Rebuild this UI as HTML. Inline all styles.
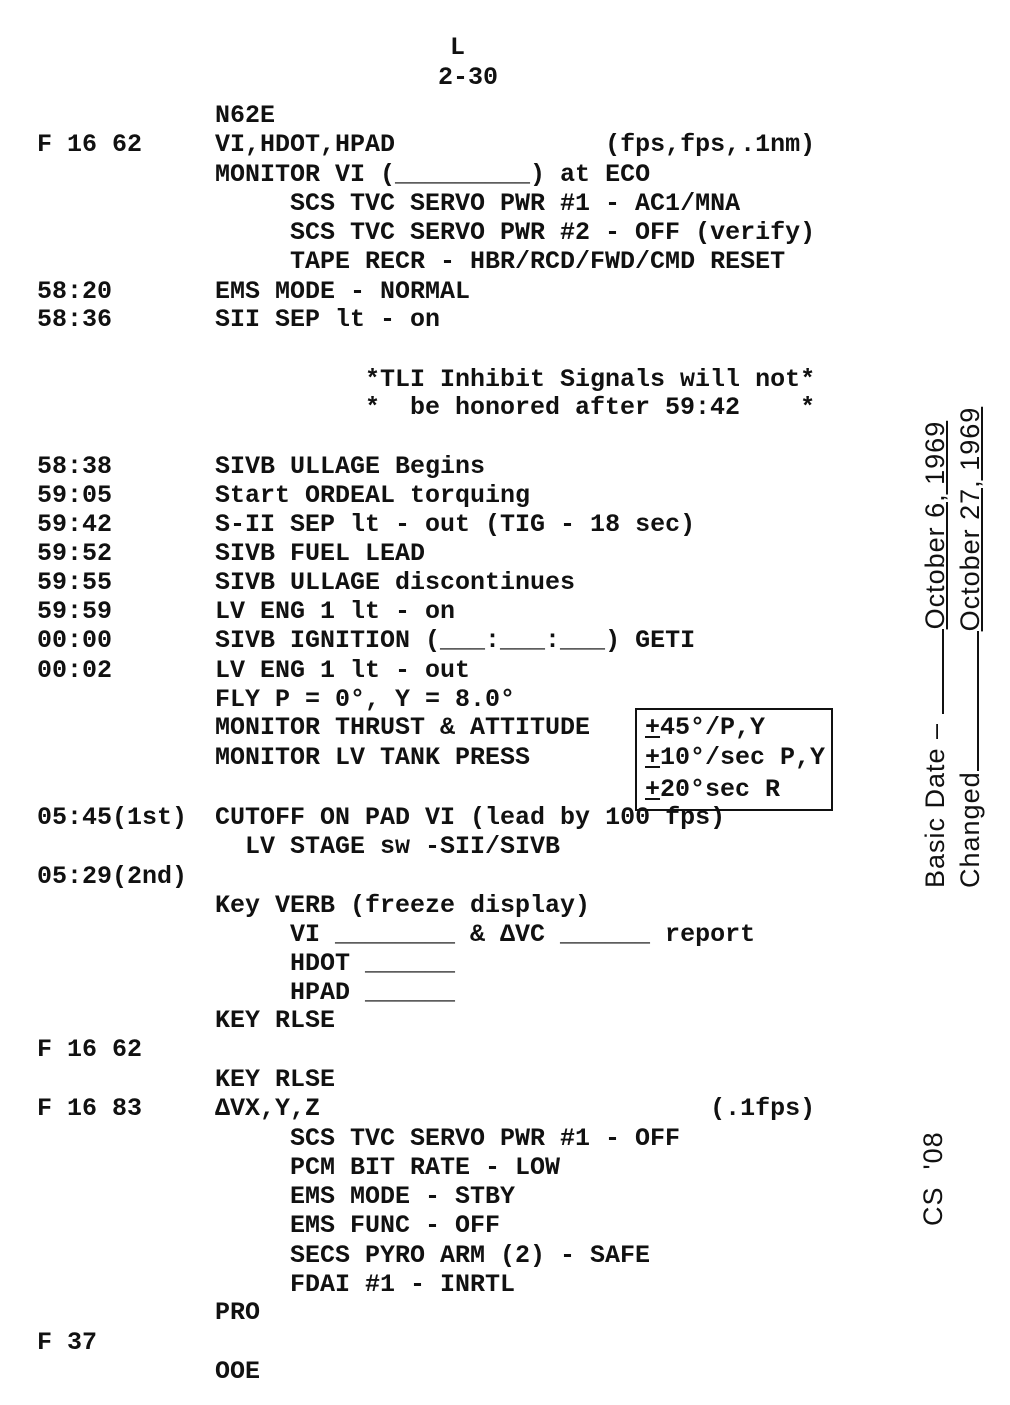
<!DOCTYPE html>
<html><head><meta charset="utf-8"><style>
body{margin:0;background:#fff;width:1010px;height:1405px;position:relative;overflow:hidden;font-family:"Liberation Mono",monospace;font-weight:bold;font-size:25px;color:#111}
.t{position:absolute;white-space:pre;line-height:30px}
.r{position:absolute;white-space:pre;font-family:"Liberation Sans",sans-serif;font-weight:normal;font-size:27px;letter-spacing:1px;transform-origin:0 0;transform:rotate(-90deg);line-height:30px}
.r span.g{display:inline-block;border-bottom:2px solid #111;height:24px;vertical-align:baseline}
u{text-decoration:underline}
</style></head><body>
<div class="t" style="left:450px;top:33px">L</div>
<div class="t" style="left:438px;top:63px">2-30</div>
<div class="t" style="left:215px;top:101px">N62E</div>
<div class="t" style="left:37px;top:130px">F 16 62</div>
<div class="t" style="left:215px;top:130px">VI,HDOT,HPAD              (fps,fps,.1nm)</div>
<div class="t" style="left:215px;top:160px">MONITOR VI (_________) at ECO</div>
<div class="t" style="left:290px;top:189px">SCS TVC SERVO PWR #1 - AC1/MNA</div>
<div class="t" style="left:290px;top:218px">SCS TVC SERVO PWR #2 - OFF (verify)</div>
<div class="t" style="left:290px;top:247px">TAPE RECR - HBR/RCD/FWD/CMD RESET</div>
<div class="t" style="left:37px;top:277px">58:20</div>
<div class="t" style="left:215px;top:277px">EMS MODE - NORMAL</div>
<div class="t" style="left:37px;top:305px">58:36</div>
<div class="t" style="left:215px;top:305px">SII SEP lt - on</div>
<div class="t" style="left:365px;top:365px">*TLI Inhibit Signals will not*</div>
<div class="t" style="left:365px;top:393px">*  be honored after 59:42    *</div>
<div class="t" style="left:37px;top:452px">58:38</div>
<div class="t" style="left:215px;top:452px">SIVB ULLAGE Begins</div>
<div class="t" style="left:37px;top:481px">59:05</div>
<div class="t" style="left:215px;top:481px">Start ORDEAL torquing</div>
<div class="t" style="left:37px;top:510px">59:42</div>
<div class="t" style="left:215px;top:510px">S-II SEP lt - out (TIG - 18 sec)</div>
<div class="t" style="left:37px;top:539px">59:52</div>
<div class="t" style="left:215px;top:539px">SIVB FUEL LEAD</div>
<div class="t" style="left:37px;top:568px">59:55</div>
<div class="t" style="left:215px;top:568px">SIVB ULLAGE discontinues</div>
<div class="t" style="left:37px;top:597px">59:59</div>
<div class="t" style="left:215px;top:597px">LV ENG 1 lt - on</div>
<div class="t" style="left:37px;top:626px">00:00</div>
<div class="t" style="left:215px;top:626px">SIVB IGNITION (___:___:___) GETI</div>
<div class="t" style="left:37px;top:656px">00:02</div>
<div class="t" style="left:215px;top:656px">LV ENG 1 lt - out</div>
<div class="t" style="left:215px;top:685px">FLY P = 0°, Y = 8.0°</div>
<div class="t" style="left:215px;top:713px">MONITOR THRUST &amp; ATTITUDE</div>
<div class="t" style="left:215px;top:743px">MONITOR LV TANK PRESS</div>
<div style="position:absolute;left:635px;top:708px;width:194px;height:99px;border:2px solid #111"></div>
<div class="t" style="left:645px;top:713px"><u>+</u>45°/P,Y</div>
<div class="t" style="left:645px;top:743px"><u>+</u>10°/sec P,Y</div>
<div class="t" style="left:645px;top:775px"><u>+</u>20°sec R</div>
<div class="t" style="left:37px;top:803px">05:45(1st)</div>
<div class="t" style="left:215px;top:803px">CUTOFF ON PAD VI (lead by 100 fps)</div>
<div class="t" style="left:245px;top:832px">LV STAGE sw -SII/SIVB</div>
<div class="t" style="left:37px;top:862px">05:29(2nd)</div>
<div class="t" style="left:215px;top:891px">Key VERB (freeze display)</div>
<div class="t" style="left:290px;top:920px">VI ________ &amp; ΔVC ______ report</div>
<div class="t" style="left:290px;top:949px">HDOT ______</div>
<div class="t" style="left:290px;top:978px">HPAD ______</div>
<div class="t" style="left:215px;top:1006px">KEY RLSE</div>
<div class="t" style="left:37px;top:1035px">F 16 62</div>
<div class="t" style="left:215px;top:1065px">KEY RLSE</div>
<div class="t" style="left:37px;top:1094px">F 16 83</div>
<div class="t" style="left:215px;top:1094px">ΔVX,Y,Z                          (.1fps)</div>
<div class="t" style="left:290px;top:1124px">SCS TVC SERVO PWR #1 - OFF</div>
<div class="t" style="left:290px;top:1153px">PCM BIT RATE - LOW</div>
<div class="t" style="left:290px;top:1182px">EMS MODE - STBY</div>
<div class="t" style="left:290px;top:1211px">EMS FUNC - OFF</div>
<div class="t" style="left:290px;top:1241px">SECS PYRO ARM (2) - SAFE</div>
<div class="t" style="left:290px;top:1270px">FDAI #1 - INRTL</div>
<div class="t" style="left:215px;top:1298px">PRO</div>
<div class="t" style="left:37px;top:1328px">F 37</div>
<div class="t" style="left:215px;top:1357px">OOE</div>
<div class="r" style="left:918px;top:888px">Basic Date – <span class="g" style="width:85px"></span><u>October 6, 1969</u></div>
<div class="r" style="left:953px;top:888px">Changed<span class="g" style="width:140px"></span><u>October 27, 1969</u></div>
<div class="r" style="left:918px;top:1226px">CS  '08</div>
</body></html>
